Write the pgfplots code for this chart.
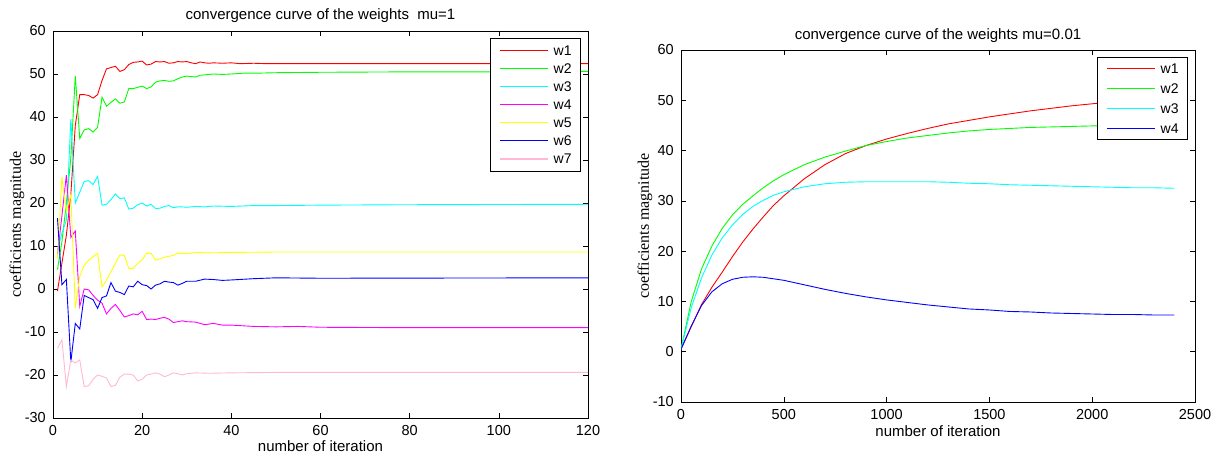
\documentclass[border=0pt]{standalone}
\usepackage{pgfplots}
\pgfplotsset{compat=1.18}
\usepackage{fontspec}
\setmainfont{Liberation Sans}
\newfontfamily\seriffont{Liberation Serif}
\definecolor{mred}{rgb}{1,0,0}
\definecolor{mgreen}{rgb}{0,1,0}
\definecolor{mcyan}{rgb}{0,1,1}
\definecolor{mmag}{rgb}{1,0,1}
\definecolor{myel}{rgb}{1,1,0}
\definecolor{mblue}{rgb}{0,0,1}
\definecolor{mpink}{rgb}{1,0.72,0.84}
\pgfplotsset{legend image code/.code={\draw[#1, line width=1.2pt] (0pt,0pt) -- (48pt,0pt);}}
\pgfplotsset{
  mstyle/.style={
    scale only axis,
    anchor=south west,
    tick align=inside,
    major tick length=5pt,
    tick style={black, line width=0.6pt},
    axis line style={black, line width=0.8pt},
    every tick label/.append style={font=\fontsize{14.5}{14.5}\selectfont, inner sep=0pt},
    /pgf/number format/assume math mode=true,
    /pgf/number format/1000 sep={},
    scaled ticks=false,
    x tick label style={yshift=-7pt},
    y tick label style={xshift=-7pt},
    title style={font=\fontsize{15}{15}\selectfont, anchor=center, at={(0.5,1)}},
    xlabel style={font=\fontsize{15}{15}\selectfont, anchor=center, at={(0.5,0)}},
    ylabel style={font=\seriffont\fontsize{16}{16}\selectfont, anchor=center, at={(0,0.5)}, rotate=0, yshift=36pt},
    every axis plot/.append style={line width=0.9pt, mark=none},
    legend style={at={(1,1)}, anchor=north east, xshift=-7pt, yshift=-7pt,
      draw=black, fill=white, line width=0.8pt, font=\fontsize{14}{14}\selectfont,
      inner xsep=9pt, column sep=5pt,
      nodes={inner sep=0pt, text height=10pt, text depth=0pt}},
    legend cell align=left,
  }
}
\begin{document}
\begin{tikzpicture}
\useasboundingbox (0pt,0pt) rectangle (1214pt,454pt);
\begin{axis}[mstyle, at={(53pt,36pt)}, width=535pt, height=387pt,
  xmin=0, xmax=120, ymin=-30, ymax=60,
  xtick={0,20,...,120}, ytick={-30,-20,...,60},
  title={convergence curve of the weights\ \ mu=1}, title style={yshift=9pt},
  xlabel={number of iteration}, xlabel style={yshift=-28pt},
  ylabel={coefficients magnitude},
  legend style={inner ysep=7.5pt, row sep=8pt}]
\addplot[mred] coordinates {(1,-0.5)(2,6)(3,12.5)(4,22)(5,38)(6,45.2)(7,45.2)(8,45)(9,44.4)(10,45.2)(11,48.5)(12,51.2)(13,51.5)(14,51.8)(15,50.6)(16,51)(17,52.2)(18,52.7)(19,52.8)(20,53)(21,52.1)(22,52.3)(23,52.9)(24,52.8)(25,52.9)(26,52.5)(27,52.6)(28,52.9)(29,52.8)(30,52.9)(31,52.6)(32,52.4)(33,52.8)(34,52.6)(35,52.5)(36,52.6)(38,52.5)(40,52.6)(42,52.4)(45,52.5)(48,52.4)(50,52.4)(120,52.4)};
\addlegendentry{w1}
\addplot[mgreen] coordinates {(1,4.5)(2,11)(3,20)(4,30.5)(5,49.5)(6,35)(7,37)(8,37.3)(9,36.5)(10,37.6)(11,44.6)(12,42.5)(13,43.4)(14,44.2)(15,43.2)(16,43.5)(17,46.6)(18,46.6)(19,46.9)(20,47.2)(21,46.6)(22,47)(23,48.1)(24,48.4)(25,48.5)(26,48.3)(27,48.4)(28,48.9)(29,49.3)(30,49.5)(31,49.4)(32,49.3)(33,49.7)(34,49.8)(36,50)(38,49.9)(40,50)(43,50.2)(46,50.2)(50,50.3)(60,50.4)(80,50.5)(100,50.5)(120,50.6)};
\addlegendentry{w2}
\addplot[mcyan] coordinates {(1,9)(2,13)(3,16)(4,39.5)(5,20)(6,22.5)(7,25)(8,25.2)(9,24.3)(10,26.2)(11,19.5)(12,19.7)(13,20.8)(14,22.1)(15,21)(16,21.2)(17,18.6)(18,18.8)(19,19.6)(20,20)(21,19.3)(22,19.7)(23,18.7)(24,18.8)(25,19.2)(26,19.4)(27,18.9)(28,19.1)(29,19.1)(30,19)(32,19.2)(34,19.1)(36,19.3)(40,19.2)(45,19.4)(50,19.4)(60,19.5)(80,19.6)(120,19.7)};
\addlegendentry{w3}
\addplot[mmag] coordinates {(1,8)(2,17)(3,26.5)(4,12)(5,13.5)(6,-4)(7,0)(8,-0.2)(9,-1.5)(10,-2.6)(11,-3.3)(12,-5.8)(13,-4.5)(14,-3.6)(15,-5)(16,-6.5)(17,-6.2)(18,-5.8)(19,-6)(20,-5.2)(21,-7.1)(22,-7)(23,-7.1)(24,-6.8)(25,-6.6)(26,-7)(27,-7.8)(28,-7.6)(29,-7.4)(30,-7.6)(32,-7.7)(34,-8.3)(36,-8)(38,-8.4)(40,-8.4)(45,-8.7)(50,-8.8)(55,-8.7)(60,-8.9)(80,-9)(120,-9)};
\addlegendentry{w4}
\addplot[myel] coordinates {(1,7)(2,26)(3,18)(4,22)(5,-4.5)(6,3)(7,5.5)(8,6.7)(9,7.5)(10,8.3)(11,0.5)(12,2)(13,4)(14,6)(15,7.9)(16,7.8)(17,4.8)(18,4.8)(19,6)(20,6.8)(21,8.3)(22,8.3)(23,6.7)(24,7)(25,7.4)(26,7.6)(27,7.8)(28,8.3)(29,8.3)(30,8.2)(32,8.5)(35,8.4)(40,8.5)(50,8.6)(120,8.6)};
\addlegendentry{w5}
\addplot[mblue] coordinates {(1,16.5)(2,1)(3,2.2)(4,-17)(5,-8)(6,-9.3)(7,-1.5)(8,-2)(9,-2.5)(10,-4.5)(11,-2)(12,-1.6)(13,1.5)(14,-0.5)(15,-0.8)(16,-1.3)(17,0.7)(18,0.5)(19,1.8)(20,1)(21,0.8)(22,0)(23,0.9)(24,1.2)(25,1.8)(26,1.6)(27,1.5)(28,0.9)(29,1.3)(30,1.8)(32,1.8)(34,2.3)(36,2.2)(38,2)(40,2.1)(45,2.4)(50,2.6)(60,2.5)(120,2.6)};
\addlegendentry{w6}
\addplot[mpink] coordinates {(1,-13.8)(2,-11.8)(3,-22.7)(4,-16.5)(5,-17.2)(6,-16.5)(7,-22.7)(8,-22.5)(9,-21)(10,-20)(11,-20.3)(12,-20.7)(13,-22.7)(14,-22.4)(15,-20.5)(16,-19.8)(17,-19.8)(18,-20)(19,-21.4)(20,-21)(21,-20)(22,-19.8)(23,-19.5)(24,-19.8)(25,-20.4)(26,-20)(27,-19.5)(28,-19.7)(29,-20)(30,-19.7)(32,-19.5)(35,-19.6)(40,-19.5)(50,-19.4)(120,-19.4)};
\addlegendentry{w7}
\end{axis}
\begin{axis}[mstyle, at={(681pt,52pt)}, width=514pt, height=352pt,
  xmin=0, xmax=2500, ymin=-10, ymax=60,
  xtick={0,500,...,2500}, ytick={-10,0,...,60},
  title={convergence curve of the weights mu=0.01}, title style={yshift=8pt},
  xlabel={number of iteration}, xlabel style={yshift=-29pt},
  ylabel={coefficients magnitude},
  legend style={inner ysep=6pt, row sep=10pt}]
\addplot[mred] coordinates {(0,0.5)(50,5)(100,9.4)(150,12.8)(200,15.8)(250,18.9)(300,21.8)(350,24.4)(400,26.8)(450,29.1)(500,31)(600,34.4)(700,37.2)(800,39.4)(900,41)(1000,42.3)(1100,43.4)(1200,44.4)(1300,45.3)(1400,46)(1500,46.7)(1600,47.3)(1700,47.9)(1800,48.4)(1900,48.9)(2000,49.3)(2100,49.7)(2200,50)(2300,50.3)(2400,50.5)};
\addlegendentry{w1}
\addplot[mgreen] coordinates {(0,0.5)(50,10)(100,16.5)(150,21)(200,24.5)(250,27.2)(300,29.3)(350,31)(400,32.6)(450,34)(500,35.2)(600,37.2)(700,38.7)(800,39.9)(900,41)(1000,41.8)(1100,42.5)(1200,43)(1300,43.5)(1400,43.9)(1500,44.2)(1600,44.4)(1700,44.6)(1800,44.7)(1900,44.8)(2000,44.9)(2200,45)(2400,45.1)};
\addlegendentry{w2}
\addplot[mcyan] coordinates {(0,0.5)(50,8.8)(100,14.7)(150,19.2)(200,22.6)(250,25.2)(300,27.3)(350,28.9)(400,30.1)(450,31.1)(500,31.8)(600,32.8)(700,33.4)(800,33.7)(900,33.8)(1000,33.8)(1100,33.8)(1200,33.8)(1300,33.7)(1400,33.5)(1500,33.4)(1600,33.2)(1700,33.1)(1800,33)(1900,32.9)(2000,32.8)(2100,32.7)(2200,32.6)(2300,32.6)(2400,32.5)};
\addlegendentry{w3}
\addplot[mblue] coordinates {(0,0.5)(25,2.8)(50,5.1)(100,9.2)(150,11.9)(200,13.5)(250,14.4)(300,14.8)(350,14.9)(400,14.8)(450,14.5)(500,14.2)(600,13.3)(700,12.4)(800,11.6)(900,10.9)(1000,10.3)(1100,9.8)(1200,9.3)(1300,8.9)(1400,8.5)(1500,8.3)(1600,8)(1700,7.9)(1800,7.7)(1900,7.6)(2000,7.5)(2100,7.4)(2200,7.4)(2300,7.3)(2400,7.3)};
\addlegendentry{w4}
\end{axis}
\end{tikzpicture}
\end{document}
